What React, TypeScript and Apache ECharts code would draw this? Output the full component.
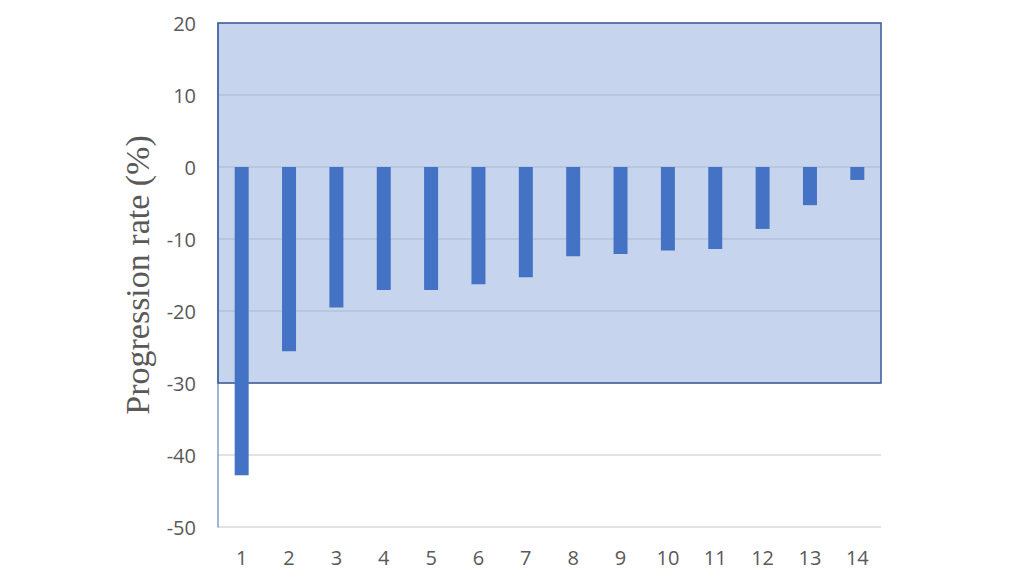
import React, { useEffect, useRef } from "react";
import * as echarts from "echarts";

const categories = ["1", "2", "3", "4", "5", "6", "7", "8", "9", "10", "11", "12", "13", "14"];
const progressionRates = [-42.8, -25.6, -19.5, -17.1, -17.1, -16.3, -15.3, -12.4, -12.1, -11.6, -11.4, -8.6, -5.3, -1.8];
const yTicks = { min: -50, max: 20, interval: 10 };
const bandRange = [20, -30];

export default function App() {
  const ref = useRef<HTMLDivElement>(null);
  useEffect(() => {
    const chart = echarts.init(ref.current!, null, { renderer: "svg" });
    chart.setOption({
      animation: false,
      backgroundColor: "#ffffff",
      grid: { left: 218, right: 143, top: 23, bottom: 49, containLabel: false },
      xAxis: {
        type: "category",
        data: categories,
        axisLine: { show: false },
        axisTick: { show: false },
        axisLabel: { color: "#595959", fontSize: 20, fontFamily: "Open Sans", margin: 20 },
      },
      yAxis: {
        type: "value",
        min: yTicks.min,
        max: yTicks.max,
        interval: yTicks.interval,
        name: "Progression rate (%)",
        nameLocation: "middle",
        nameGap: 64,
        nameTextStyle: { fontFamily: "Liberation Serif", fontSize: 34, color: "#595959" },
        axisLine: { show: true, lineStyle: { color: "#7f9ccf", width: 1.5 } },
        axisTick: { show: false },
        axisLabel: { color: "#595959", fontSize: 20, fontFamily: "Open Sans", margin: 22 },
        splitLine: { show: true, lineStyle: { color: "#d9d9d9", width: 1.5 } },
      },
      series: [
        {
          type: "bar",
          data: progressionRates,
          barWidth: 14,
          itemStyle: { color: "#4472c4" },
          z: 3,
          markArea: {
            silent: true,
            z: 1,
            itemStyle: {
              color: "rgba(143,170,220,0.5)",
              borderColor: "#3b5a94",
              borderWidth: 1.5,
            },
            data: [[{ yAxis: bandRange[0], xAxis: "min" }, { yAxis: bandRange[1], xAxis: "max" }]],
          },
        },
      ],
    });
    return () => chart.dispose();
  }, []);
  return <div ref={ref} style={{ width: 1024, height: 576, position: "absolute", left: 0, top: 0 }} />;
}
